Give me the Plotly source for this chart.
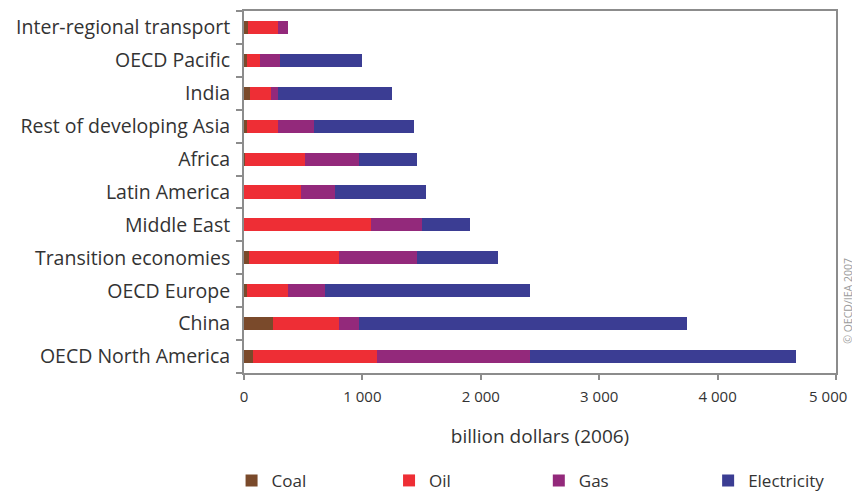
import plotly.graph_objects as go

regions = ["OECD North America", "China", "OECD Europe", "Transition economies",
           "Middle East", "Latin America", "Africa", "Rest of developing Asia",
           "India", "OECD Pacific", "Inter-regional transport"]
coal = [75, 247, 27, 38, 0, 0, 12, 24, 52, 24, 32]
oil = [1052, 558, 347, 767, 1076, 478, 503, 265, 175, 113, 254]
gas = [1291, 166, 313, 660, 428, 293, 456, 305, 62, 169, 85]
electricity = [2248, 2770, 1728, 680, 404, 767, 494, 843, 959, 691, 0]

x_ticks = [0, 1000, 2000, 3000, 4000, 5000]
# the last label sits flush with the right edge, trailing no-break spaces keep it inside
x_ticktext = ["0", "1 000", "2 000", "3 000", "4 000", "5 000\u00a0\u00a0\u00a0\u00a0"]

series = [("Coal", coal, "#7a4a2b"), ("Oil", oil, "#ee2e35"),
          ("Gas", gas, "#93297b"), ("Electricity", electricity, "#3b3d93")]

FONT = "Open Sans"
TXT = "#333333"
AX = "#8c8c8c"

fig = go.Figure()
legend_names = ["legend", "legend2", "legend3", "legend4"]
for (name, vals, col), lg in zip(series, legend_names):
    fig.add_trace(go.Bar(
        y=regions, x=vals, name=name, orientation="h",
        marker=dict(color=col, line=dict(width=0)),
        legend=lg,
    ))

legend_x = [-0.021, 0.245, 0.498, 0.784]
layout_legends = {}
for lg, lx in zip(legend_names, legend_x):
    layout_legends[lg] = dict(
        x=lx, orientation="h", yanchor="middle", y=-0.298, xanchor="left",
        font=dict(family=FONT, size=17, color=TXT),
        bgcolor="rgba(0,0,0,0)", itemwidth=30, visible=True,
    )

fig.update_layout(
    barmode="stack",
    bargap=0.6,
    width=852, height=491,
    margin=dict(l=244, r=16, t=11, b=118, autoexpand=False),
    paper_bgcolor="white",
    plot_bgcolor="white",
    font=dict(family=FONT, color=TXT),
    showlegend=True,
    **layout_legends,
)

fig.update_xaxes(
    range=[0, 5000],
    tickvals=x_ticks, ticktext=x_ticktext,
    tickfont=dict(family=FONT, size=15, color=TXT),
    ticks="outside", ticklen=5, tickcolor=AX, tickwidth=1.5,
    ticklabelstandoff=4, ticklabeloverflow="allow",
    showline=True, linecolor=AX, linewidth=1.8, mirror=True,
    showgrid=False, zeroline=False,
    title=dict(text="billion dollars (2006)", font=dict(family=FONT, size=19, color=TXT),
               standoff=25),
)
fig.update_yaxes(
    type="category",
    tickfont=dict(family=FONT, size=19.5, color=TXT),
    ticks="outside", ticklen=6, tickcolor=AX, tickwidth=1.5, tickson="boundaries",
    ticklabelstandoff=8,
    showline=True, linecolor=AX, linewidth=1.8, mirror=True,
    showgrid=False, zeroline=False,
)

fig.add_annotation(
    text="© OECD/IEA 2007", textangle=-90,
    xref="paper", yref="paper", x=1.02, y=0.199,
    xanchor="center", yanchor="middle", showarrow=False,
    font=dict(family=FONT, size=10.5, color="#9a9a9a"),
)

fig.write_html(
    "out.html",
    config={"displayModeBar": False},
    post_script="document.body.style.margin='0';document.body.style.overflow='hidden';",
)
